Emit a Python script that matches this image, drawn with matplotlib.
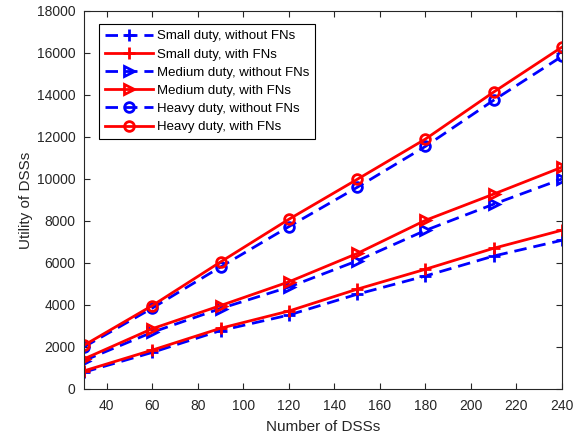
import matplotlib.pyplot as plt

plt.rcParams['font.family'] = ['Liberation Sans', 'DejaVu Sans']

n_dss = [30, 60, 90, 120, 150, 180, 210, 240]

small_wo = [800, 1740, 2780, 3520, 4510, 5380, 6330, 7080]
small_fn = [860, 1850, 2890, 3710, 4750, 5700, 6700, 7560]
medium_wo = [1350, 2700, 3830, 4850, 6100, 7550, 8800, 10000]
medium_fn = [1430, 2870, 3970, 5100, 6450, 8030, 9280, 10560]
heavy_wo = [2000, 3850, 5810, 7730, 9600, 11550, 13750, 15840]
heavy_fn = [2080, 3970, 6050, 8080, 9980, 11900, 14140, 16280]

series = [
    (small_wo, 'Small duty, without FNs', 'b', '--', '+'),
    (small_fn, 'Small duty, with FNs', 'r', '-', '+'),
    (medium_wo, 'Medium duty, without FNs', 'b', '--', '>'),
    (medium_fn, 'Medium duty, with FNs', 'r', '-', '>'),
    (heavy_wo, 'Heavy duty, without FNs', 'b', '--', 'o'),
    (heavy_fn, 'Heavy duty, with FNs', 'r', '-', 'o'),
]

fig, ax = plt.subplots(figsize=(5.81, 4.38), dpi=100)
fig.subplots_adjust(left=0.1446, right=0.9673, top=0.975, bottom=0.112)

for vals, label, color, ls, mk in series:
    kw = {}
    if ls == '--':
        kw['dashes'] = (4.5, 2.5)
    ax.plot(n_dss, vals, color=color, linestyle=ls, marker=mk, linewidth=2,
            markersize=9 if mk == '+' else 7, markerfacecolor='none',
            markeredgewidth=2, label=label, **kw)

ax.set_xlim(30, 240)
ax.set_ylim(0, 18000)
ax.set_xticks(range(40, 241, 20))
ax.set_yticks(range(0, 18001, 2000))
ax.tick_params(direction='in', top=True, right=True, labelsize=10,
               colors='#262626', length=4)
ax.tick_params(axis='x', pad=7)
ax.tick_params(axis='y', pad=6)
for s in ax.spines.values():
    s.set_color('#262626')
    s.set_linewidth(0.8)
ax.set_xlabel('Number of DSSs', fontsize=11, color='#262626', labelpad=5)
ax.set_ylabel('Utility of DSSs', fontsize=11, color='#262626', labelpad=3)

leg = ax.legend(loc='upper left', bbox_to_anchor=(0.032, 0.965),
                borderaxespad=0, fontsize=9.5, handlelength=3.6,
                fancybox=False, edgecolor='black', framealpha=1,
                labelspacing=0.45, handletextpad=0.3, borderpad=0.45)
leg.get_frame().set_linewidth(0.8)

plt.savefig('out.png')
